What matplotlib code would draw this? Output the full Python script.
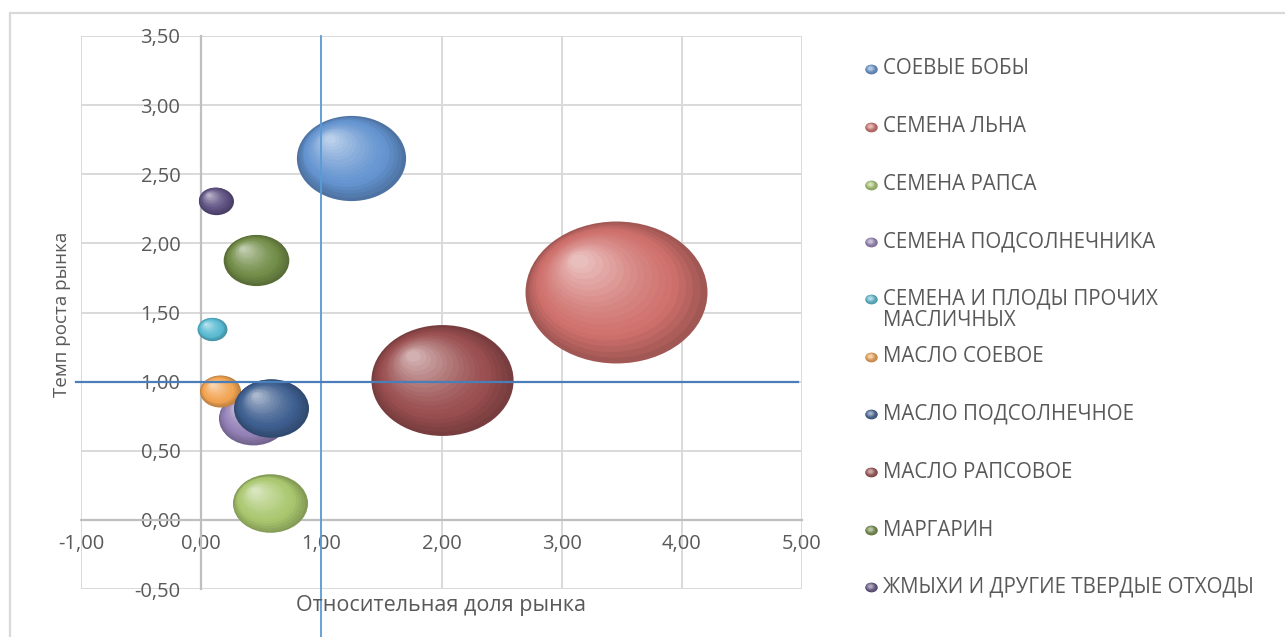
import numpy as np
import matplotlib
matplotlib.use('Agg')
import matplotlib.pyplot as plt
from matplotlib.path import Path
from matplotlib.markers import MarkerStyle
from matplotlib.transforms import offset_copy
from matplotlib.ticker import FuncFormatter, FixedLocator
from matplotlib.patches import Rectangle
import matplotlib.colors as mcolors

plt.rcParams['font.family'] = ['Open Sans', 'DejaVu Sans']

# ---------------- data ----------------
categories = ["СОЕВЫЕ БОБЫ", "СЕМЕНА ЛЬНА", "СЕМЕНА РАПСА", "СЕМЕНА ПОДСОЛНЕЧНИКА",
              "СЕМЕНА И ПЛОДЫ ПРОЧИХ\nМАСЛИЧНЫХ", "МАСЛО СОЕВОЕ", "МАСЛО ПОДСОЛНЕЧНОЕ",
              "МАСЛО РАПСОВОЕ", "МАРГАРИН", "ЖМЫХИ И ДРУГИЕ ТВЕРДЫЕ ОТХОДЫ"]
share = [1.25, 3.45, 0.57, 0.43, 0.09, 0.16, 0.58, 2.00, 0.46, 0.12]   # относительная доля рынка
growth = [2.62, 1.65, 0.12, 0.74, 1.38, 0.93, 0.81, 1.01, 1.88, 2.31]  # темп роста рынка
bubble_size = [36, 100, 17, 14.4, 2.7, 5.1, 17, 61, 13, 3.7]
colors = ["#6494D0", "#CF706C", "#A9C76E", "#9582B8", "#58BAD2",
          "#F2A452", "#3E5F90", "#9A4E4F", "#718C47", "#5F5283"]
x_ticks = [-1, 0, 1, 2, 3, 4, 5]
y_ticks = [-0.5, 0, 0.5, 1.0, 1.5, 2.0, 2.5, 3.0, 3.5]
ref_share = 1.0
ref_growth = 1.0

x_title = "Относительная доля рынка"
y_title = "Темп роста рынка"

# ---------------- figure ----------------
W, H = 1285, 637
fig = plt.figure(figsize=(W / 100, H / 100), dpi=100)
fig.patch.set_facecolor('white')

def fx(px):
    return px / W

def fy(py):
    return 1 - py / H

ax = fig.add_axes([fx(81), fy(589), fx(802) - fx(81), fy(36) - fy(589)])
ax.set_xlim(x_ticks[0], x_ticks[-1])
ax.set_ylim(y_ticks[0], y_ticks[-1])

TXT = '#595959'
GRID = '#D9D9D9'
AXC = '#BFBFBF'

for s in ['top', 'right']:
    ax.spines[s].set_visible(False)
ax.spines['left'].set_position(('data', 0))
ax.spines['bottom'].set_position(('data', 0))
for s in ['left', 'bottom']:
    ax.spines[s].set_color(AXC)
    ax.spines[s].set_linewidth(1.6)
    ax.spines[s].set_zorder(1.5)

ax.xaxis.set_major_locator(FixedLocator(x_ticks))
ax.yaxis.set_major_locator(FixedLocator(y_ticks))
fmt = FuncFormatter(lambda v, p: f"{v:.2f}".replace('.', ','))
ax.xaxis.set_major_formatter(fmt)
ax.yaxis.set_major_formatter(fmt)
ax.tick_params(axis='both', length=0, labelsize=14.5, labelcolor=TXT)
ax.tick_params(axis='y', pad=15)
ax.tick_params(axis='x', pad=10)
ax.grid(True, color=GRID, linewidth=1.4, zorder=0)
ax.set_axisbelow(True)

# ---------------- bubbles ----------------
ASPECT = 0.78
circ = Path.unit_circle()
ell = Path(circ.vertices * np.array([1.0, ASPECT]), circ.codes)
marker = MarkerStyle(ell)

MAX_W_PT = 182 * 0.72
smax = max(bubble_size)

def mix(c1, c2, t):
    a = np.array(mcolors.to_rgb(c1))
    b = np.array(mcolors.to_rgb(c2))
    return tuple(a + (b - a) * t)

N = 18
for k, (x, y, sz, c) in enumerate(zip(share, growth, bubble_size, colors)):
    w_pt = MAX_W_PT * np.sqrt(sz / smax)
    h_pt = w_pt * ASPECT
    rim = mix(c, 'black', 0.22)
    hi = mix(c, 'white', 0.55)
    for i in range(N):
        t = i / (N - 1)
        f = 1 - 0.9 * t
        if t < 0.25:
            col = mix(rim, c, t / 0.25)
        else:
            col = mix(c, hi, ((t - 0.25) / 0.75) ** 1.3)
        tr = offset_copy(ax.transData, fig=fig, x=-0.2 * t * w_pt, y=0.22 * t * h_pt, units='points')
        ax.scatter([x], [y], s=(w_pt * f) ** 2, marker=marker, color=[col],
                   linewidths=0, transform=tr, zorder=2 + k * 0.01, clip_on=False)

# ---------------- reference lines ----------------
ax.plot([ref_share, ref_share], [y_ticks[-1], -0.85], color='#5B9BD5', lw=1.3,
        clip_on=False, zorder=5)
ax.plot([-1.04, 4.97], [ref_growth, ref_growth], color='#4A7EBB', lw=1.6,
        clip_on=False, zorder=5)

# ---------------- axis titles ----------------
fig.text(fx(62), fy(314), y_title, rotation=90, ha='center', va='center',
         fontsize=13.5, color=TXT)
fig.text(fx(441), fy(606), x_title, ha='center', va='center', fontsize=15.5, color=TXT)

# ---------------- legend ----------------
leg_y = [69, 127, 185, 242, 299, 357, 414, 472, 530, 587]
for k, (lab, c) in enumerate(zip(categories, colors)):
    yy = leg_y[k]
    lines = lab.split('\n')
    for j, ln in enumerate(lines):
        fig.text(fx(883), fy(yy + 22 * j), ln, ha='left', va='center',
                 fontsize=14.8, color=TXT)
    for i in range(6):
        t = i / 5
        col = mix(mix(c, 'black', 0.2), mix(c, 'white', 0.5), t)
        fig.add_artist(plt.Line2D([fx(871 - 1.3 * t)], [fy(yy - 1.3 * t)], marker=marker,
                                  markersize=9 * (1 - 0.7 * t), color=col,
                                  markeredgewidth=0, linestyle='none'))

# ---------------- outer border ----------------
fig.add_artist(Rectangle((fx(10), -0.1), 1.2, fy(13) + 0.1, transform=fig.transFigure,
                         fill=False, edgecolor=GRID, linewidth=1.6))

fig.savefig('out.png', dpi=100)
